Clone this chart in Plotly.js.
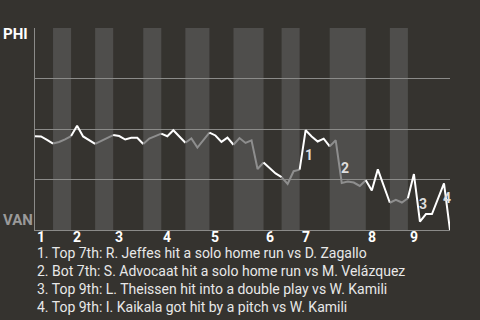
<!DOCTYPE html>
<html>
<head>
<meta charset="utf-8">
<script src="https://cdn.plot.ly/plotly-3.0.1.min.js"></script>
<style>
  html, body { margin: 0; padding: 0; background: #35332f; }
  #chart { width: 480px; height: 320px; }
</style>
</head>
<body>
<div id="chart"></div>
<script>
// Teams: top of the chart / bottom of the chart
const teams = ['PHI', 'VAN'];

// Inning labels, one per top half
const innings = ['1', '2', '3', '4', '5', '6', '7', '8', '9'];

// Plate-appearance index where each half inning starts (last entry = end of game)
const halfBounds = [0, 3, 6, 10, 13, 18, 21, 25, 29, 33, 38, 41, 44, 49, 55, 59, 62, 69];

// PHI win probability after each plate appearance
const winProb = [
  0.464, 0.463, 0.446, 0.428, 0.436, 0.449, 0.465, 0.516, 0.463, 0.446,
  0.426, 0.442, 0.458, 0.470, 0.465, 0.448, 0.457, 0.457, 0.426, 0.453,
  0.465, 0.477, 0.464, 0.494, 0.465, 0.432, 0.453, 0.408, 0.443, 0.482,
  0.468, 0.436, 0.457, 0.422, 0.455, 0.431, 0.444, 0.302, 0.334, 0.307,
  0.280, 0.262, 0.228, 0.291, 0.299, 0.494, 0.463, 0.438, 0.452, 0.414,
  0.444, 0.233, 0.240, 0.235, 0.218, 0.246, 0.196, 0.300, 0.218, 0.135,
  0.149, 0.136, 0.157, 0.277, 0.041, 0.079, 0.079, 0.153, 0.231, 0.000
];

// Key moments: plate-appearance index and description
const noteEvents = [45, 51, 64, 68];
const noteTexts = [
  'Top 7th: R. Jeffes hit a solo home run vs D. Zagallo',
  'Bot 7th: S. Advocaat hit a solo home run vs M. Velázquez',
  'Top 9th: L. Theissen hit into a double play vs W. Kamili',
  'Top 9th: I. Kaikala got hit by a pitch vs W. Kamili'
];

const BG = '#35332f';
const BAND = '#4f4e4c';
const GRID = '#8b8b89';
const FONT = 'Roboto, "Noto Sans", sans-serif';

// One line segment per half inning: white while PHI bats, gray while VAN bats
const traces = [];
for (let k = 0; k < halfBounds.length - 1; k++) {
  const xs = [], ys = [];
  for (let i = halfBounds[k]; i <= halfBounds[k + 1]; i++) {
    xs.push(i);
    ys.push(winProb[i]);
  }
  traces.push({
    x: xs, y: ys, type: 'scatter', mode: 'lines',
    line: { color: k % 2 === 0 ? '#ffffff' : '#8e8e8e', width: 2 },
    hoverinfo: 'skip', showlegend: false
  });
}

// Lighter bands behind the bottom halves
const shapes = [];
for (let k = 1; k < halfBounds.length - 1; k += 2) {
  shapes.push({
    type: 'rect', layer: 'below', xref: 'x', yref: 'paper',
    x0: halfBounds[k], x1: halfBounds[k + 1], y0: 0, y1: 1,
    fillcolor: BAND, line: { width: 0 }
  });
}

const annotations = [];

// Team names at the top and bottom of the scale
annotations.push({
  xref: 'paper', yref: 'y', x: 0, y: 0.97, xanchor: 'left', yanchor: 'middle',
  xshift: -34, text: '<b>' + teams[0] + '</b>', showarrow: false,
  font: { family: FONT, size: 15, color: '#ffffff' }
});
annotations.push({
  xref: 'paper', yref: 'y', x: 0, y: 0.052, xanchor: 'left', yanchor: 'middle',
  xshift: -34, text: '<b>' + teams[1] + '</b>', showarrow: false,
  font: { family: FONT, size: 15, color: '#9a9a9a' }
});

// Inning numbers just right of the start of each top half
const topStarts = halfBounds.filter((_, k) => k % 2 === 0 && k < halfBounds.length - 1);
topStarts.forEach((x0, n) => {
  annotations.push({
    xref: 'x', yref: 'paper', x: x0, y: 0, xanchor: 'left', yanchor: 'middle',
    xshift: 0, yshift: -7,
    text: '<b>' + innings[n] + '</b>', showarrow: false,
    font: { family: FONT, size: 14, color: '#ffffff' }
  });
});

// Numbered markers next to the key plays
const noteShift = [[3, -25], [3, 15], [3.5, 18], [3.5, -15]];
noteEvents.forEach((ev, n) => {
  annotations.push({
    xref: 'x', yref: 'y', x: ev, y: winProb[ev],
    xshift: noteShift[n][0], yshift: noteShift[n][1],
    text: '<b>' + (n + 1) + '</b>', showarrow: false,
    font: { family: FONT, size: 14, color: '#dedede' }
  });
});

// Key-play list under the chart
noteTexts.forEach((t, n) => {
  annotations.push({
    xref: 'paper', yref: 'paper', x: 0, y: 0, xanchor: 'left', yanchor: 'middle',
    xshift: 0, yshift: -23.3 - n * 17.8,
    text: (n + 1) + '. ' + t, showarrow: false,
    font: { family: FONT, size: 14, color: '#e8e8e8' }
  });
});

const layout = {
  width: 480, height: 320,
  margin: { l: 35, r: 30, t: 28, b: 90, pad: 0 },
  paper_bgcolor: BG, plot_bgcolor: BG,
  showlegend: false,
  xaxis: {
    range: [0, halfBounds[halfBounds.length - 1]],
    showgrid: false, zeroline: false, showticklabels: false, ticks: '',
    showline: true, linecolor: GRID, linewidth: 1,
    fixedrange: true
  },
  yaxis: {
    range: [0, 1],
    tickmode: 'array', tickvals: [0.25, 0.5, 0.75, 1],
    showticklabels: false, ticks: '',
    showgrid: true, gridcolor: GRID, gridwidth: 1,
    zeroline: false, showline: true, linecolor: GRID, linewidth: 1,
    fixedrange: true
  },
  shapes: shapes,
  annotations: annotations
};

Plotly.newPlot('chart', traces, layout, { displayModeBar: false, staticPlot: true });
</script>
</body>
</html>
